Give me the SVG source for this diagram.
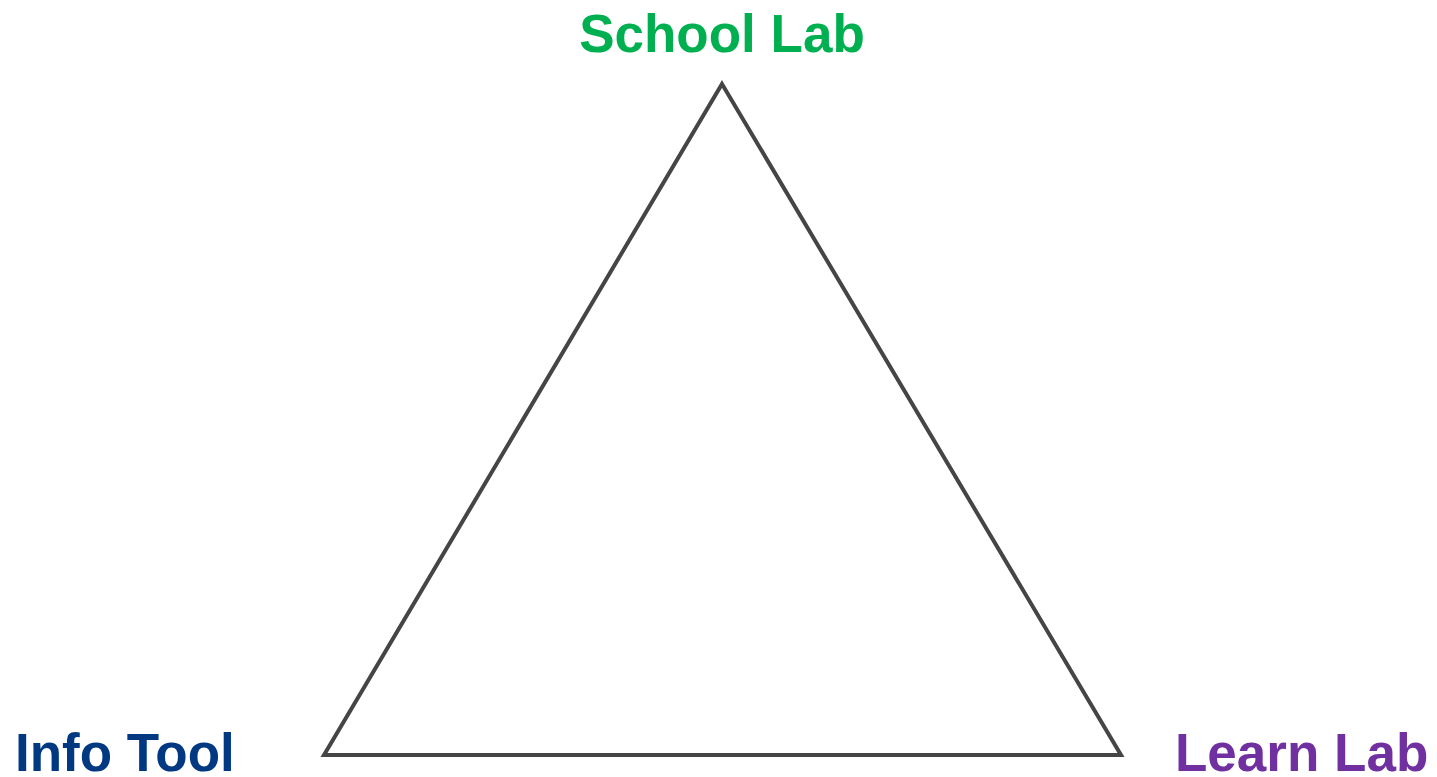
<svg xmlns="http://www.w3.org/2000/svg" width="1437" height="777" viewBox="0 0 1437 777">
<style>
.lbl{font-family:"Liberation Sans",Arial,sans-serif;font-weight:bold;font-size:53px}
.edge{fill:none;stroke:#454545;stroke-width:4;stroke-linejoin:miter}
</style>
<rect width="1437" height="777" fill="#fff"/>
<g id="connectors">
<path class="edge" d="M722,84 L1121,755 L324,755 Z"/>
</g>
<g id="school-lab"><text class="lbl" x="722" y="52" text-anchor="middle" fill="#00B050">School Lab</text></g>
<g id="info-tool"><text class="lbl" x="15" y="771" fill="#003882">Info Tool</text></g>
<g id="learn-lab"><text class="lbl" x="1175" y="771" fill="#7030A0">Learn Lab</text></g>
</svg>
